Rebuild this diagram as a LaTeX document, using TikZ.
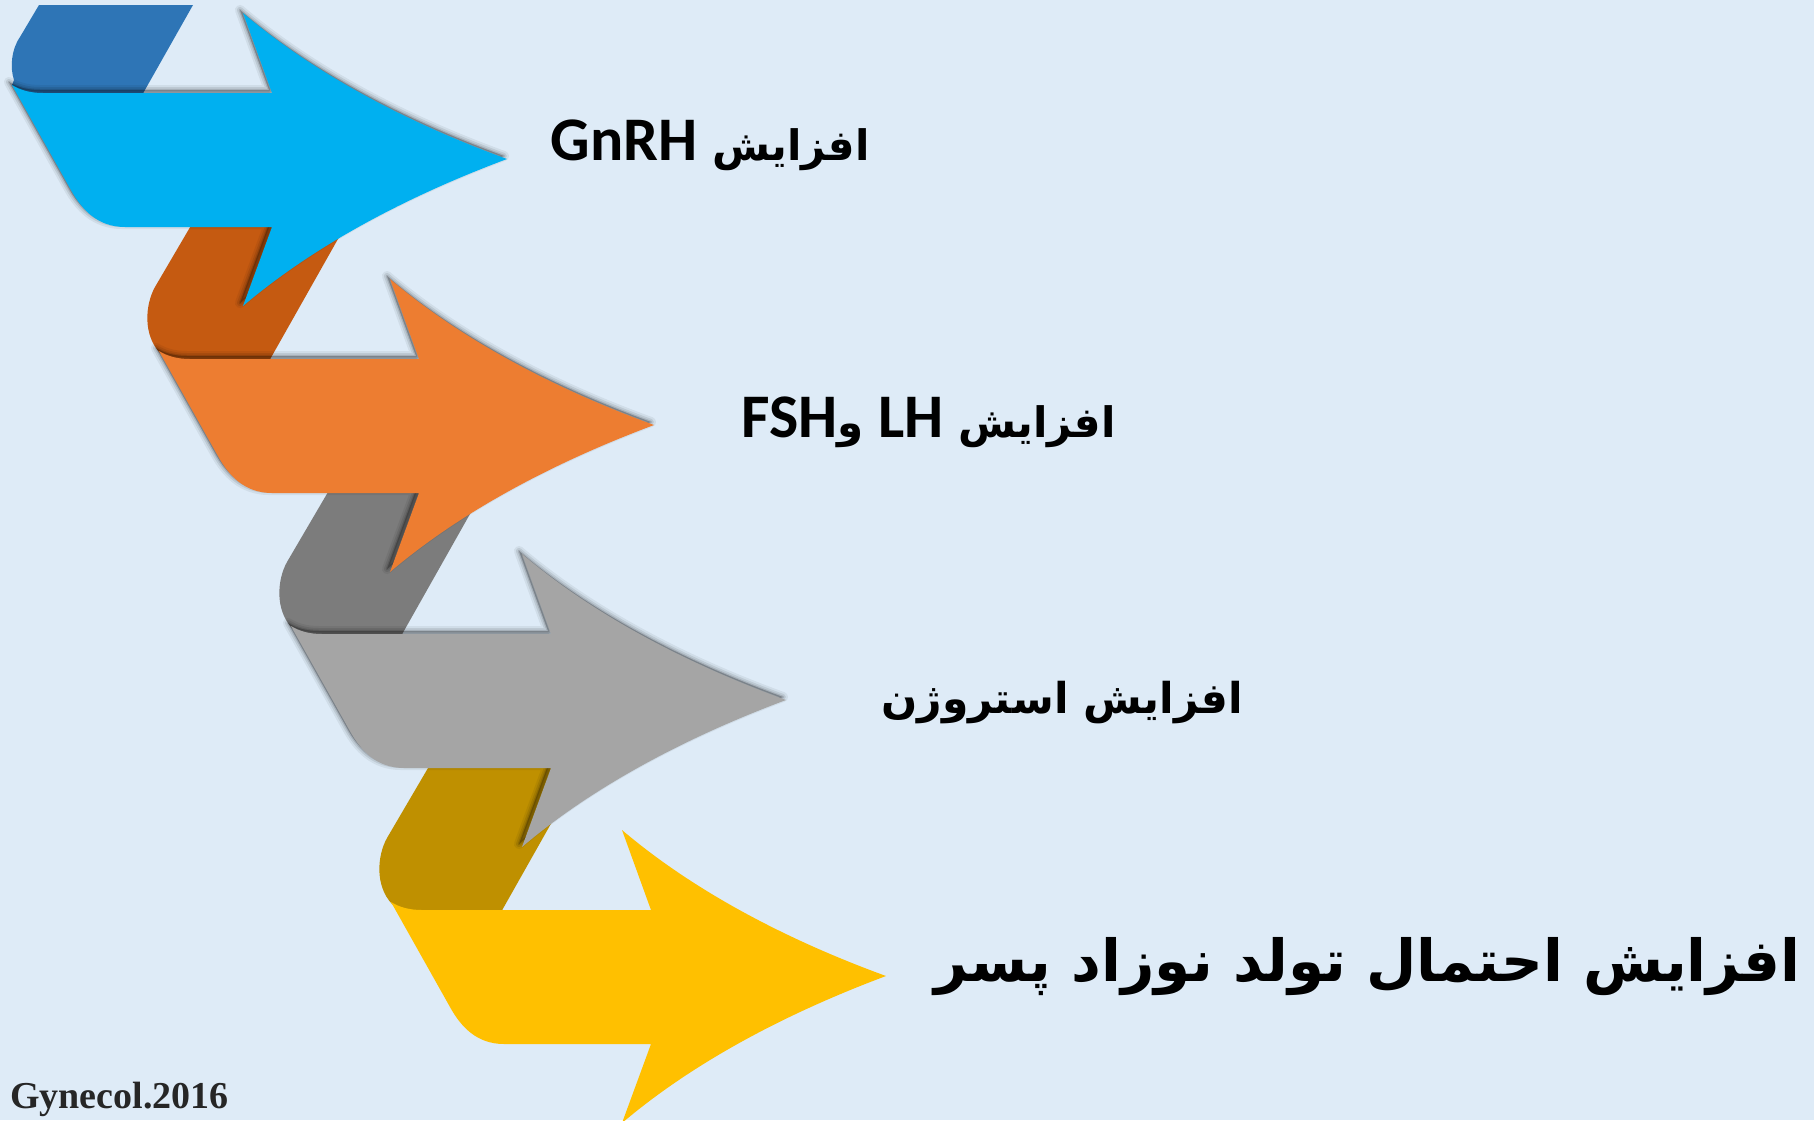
\documentclass[tikz,border=0pt]{standalone}
\usepackage{fontspec}
\TeXXeTstate=1
\newfontfamily\arabicfont[Script=Arabic]{DejaVu Sans}
\newfontfamily\latinfont{Carlito}
\newfontfamily\creditfont{Liberation Serif}
\definecolor{bgcol}{HTML}{DEEBF7}
\definecolor{blueA}{HTML}{00B0F0}
\definecolor{blueF}{HTML}{2E75B6}
\definecolor{orangeA}{HTML}{ED7D31}
\definecolor{orangeF}{HTML}{C55A11}
\definecolor{grayA}{HTML}{A5A5A5}
\definecolor{grayF}{HTML}{7C7C7C}
\definecolor{goldA}{HTML}{FFC000}
\definecolor{goldF}{HTML}{BF9000}
\definecolor{credit}{HTML}{262626}
\tikzset{
  shadowlayer/.style={draw=black, fill=black, opacity=#1, line join=round},
  label/.style={anchor=base east, inner sep=0pt, text=black},
}
% one ribbon arrow, translated by (#1,#2), path options #3
\newcommand\ribbonarrow[3]{%
  \begin{scope}[shift={(#1,#2)}]
    \path[#3] (12,85) .. controls (20,90) and (30,93) .. (43,93) -- (272,93) -- (243,13)
      .. controls (310,70) and (400,120) .. (507,159)
      .. controls (400,199) and (310,249) .. (243,306)
      -- (272,227) -- (125,227) .. controls (98,227) and (82,210) .. (71,190) -- cycle;
  \end{scope}}
% soft shadow of an arrow translated by (#1,#2), cast up and to the left
\newcommand\ribbonshadow[2]{%
  \ribbonarrow{#1-3}{#2-3}{shadowlayer=0.06, line width=10pt}
  \ribbonarrow{#1-3}{#2-3}{shadowlayer=0.09, line width=6pt}
  \ribbonarrow{#1-3}{#2-3}{shadowlayer=0.12, line width=2.5pt}}
% the fold band between two arrows, translated by (#1,#2), colour #3
\newcommand\ribbonfold[3]{%
  \begin{scope}[shift={(#1,#2)}]
    \fill[#3] (160,353) .. controls (143,335) and (145,305) .. (155,287) -- (206,200)
      -- (360,200) -- (264,370) -- (180,370) -- cycle;
  \end{scope}}
\begin{document}
\begin{tikzpicture}[x=1pt,y=-1pt]
  \fill[bgcol] (0,0) rectangle (1814,1120);
  \useasboundingbox (0,0) rectangle (1814,1120);
  % folds (behind)
  \fill[blueF] (12,85) -- (14,80) .. controls (10,68) and (11,50) .. (20,37) -- (39,5)
      -- (193,5) -- (137,104) -- (30,104) -- cycle;
  \ribbonfold{0}{0}{orangeF}
  \ribbonfold{132}{275}{grayF}
  \ribbonfold{232}{551}{goldF}
  % shadows
  \ribbonshadow{279}{541}
  \ribbonshadow{147}{266}
  \ribbonshadow{0}{0}
  % arrows
  \ribbonarrow{379}{817}{fill=goldA}
  \ribbonarrow{279}{541}{fill=grayA}
  \ribbonarrow{147}{266}{fill=orangeA}
  \ribbonarrow{0}{0}{fill=blueA}
  % labels
  \node[label] (t1) at (870,160) {\arabicfont\bfseries\fontsize{42}{50}\selectfont\beginR افزایش \beginL{\latinfont\fontsize{62}{70}\selectfont GnRH}\endL\endR};
  \node[label] (t2) at (1116,437) {\arabicfont\bfseries\fontsize{42}{50}\selectfont\beginR افزایش \beginL{\latinfont\fontsize{62}{70}\selectfont LH}\endL{} و\beginL{\latinfont\fontsize{62}{70}\selectfont FSH}\endL\endR};
  \node[label] (t3) at (1243,713) {\arabicfont\bfseries\fontsize{42.5}{50}\selectfont\beginR افزایش استروژن\endR};
  \node[label] (t4) at (1801,981) {\arabicfont\bfseries\fontsize{58}{66}\selectfont\beginR افزایش احتمال تولد نوزاد پسر\endR};
  \node[anchor=base west, inner sep=0pt, text=credit] (src) at (10,1108) {\creditfont\bfseries\fontsize{38}{40}\selectfont Gynecol.2016};
\end{tikzpicture}
\end{document}
